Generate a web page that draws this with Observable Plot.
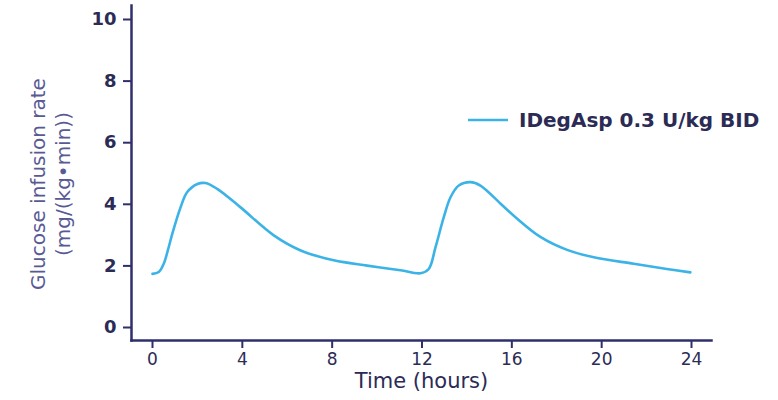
<!DOCTYPE html>
<html>
<head>
<meta charset="utf-8">
<script src="https://cdn.jsdelivr.net/npm/d3@7"></script>
<script src="https://cdn.jsdelivr.net/npm/@observablehq/plot@0.6"></script>
<style>
  html, body { margin: 0; padding: 0; background: #fff; }
  #wrap { position: relative; width: 778px; height: 400px; }
  #legend { position: absolute; left: 468px; top: 108px; display: flex; align-items: center;
    font-family: "DejaVu Sans", Verdana, sans-serif; font-size: 20px; font-weight: bold; color: #2b2b55; }
  #legend svg { margin-right: 11px; }
</style>
</head>
<body>
<div id="wrap"><div id="legend"></div></div>
<script>
const seriesName = "IDegAsp 0.3 U/kg BID";
const hours = [0, 0.28, 0.5, 0.7, 0.88, 1.25, 1.54, 2.0, 2.36, 2.88, 3.92, 5.4, 6.6, 8.07, 9.56, 11.04, 11.93, 12.3, 12.6, 12.97, 13.27, 13.64, 14.16, 14.6, 15.5, 16.24, 17.27, 18.46, 19.65, 21.43, 22.9, 23.95];
const gir   = [1.74, 1.80, 2.07, 2.55, 3.04, 3.9, 4.39, 4.66, 4.69, 4.5, 3.9, 2.99, 2.5, 2.18, 2.01, 1.86, 1.76, 1.9, 2.6, 3.58, 4.23, 4.61, 4.72, 4.61, 4.02, 3.53, 2.94, 2.52, 2.28, 2.07, 1.9, 1.79];
const xTicks = [0, 4, 8, 12, 16, 20, 24];
const yTicks = [0, 2, 4, 6, 8, 10];
const xLabel = "Time (hours)";
const yLabel = "Glucose infusion rate\n(mg/(kg•min))";

const data = hours.map((h, i) => ({h, v: gir[i]}));
const axisColor = "#2e2f6b";
const textColor = "#2b2b55";
const lineColor = "#3cb3e6";

const chart = Plot.plot({
  width: 778,
  height: 400,
  marginLeft: 131,
  marginRight: 67,
  marginTop: 5,
  marginBottom: 60,
  insetLeft: 21,
  insetRight: 20,
  insetTop: 14,
  insetBottom: 13,
  style: {fontFamily: "DejaVu Sans, Verdana, sans-serif", fontSize: "16px", color: textColor, background: "#fff"},
  x: {domain: [0, 24]},
  y: {domain: [0, 10]},
  marks: [
    Plot.frame({anchor: "left", stroke: axisColor, strokeWidth: 2.5}),
    Plot.frame({anchor: "bottom", stroke: axisColor, strokeWidth: 2.5}),
    Plot.axisY({ticks: yTicks, tickSize: 8, tickPadding: 7, stroke: axisColor, strokeWidth: 2, fill: textColor, fontWeight: "bold", fontSize: 18, label: null}),
    Plot.axisX({ticks: xTicks, tickSize: 8, tickPadding: 4, stroke: axisColor, strokeWidth: 2, fill: textColor, fontSize: 17, label: null}),
    Plot.text([xLabel], {frameAnchor: "bottom", dy: 47, fill: textColor, fontSize: 21}),
    Plot.text([yLabel], {frameAnchor: "left", textAnchor: "middle", dx: -82, dy: 11, rotate: -90, fill: "#585a94", fontSize: 20, lineHeight: 1.25}),
    Plot.line(data, {x: "h", y: "v", stroke: lineColor, strokeWidth: 2.6, curve: "catmull-rom"})
  ]
});
document.getElementById("wrap").prepend(chart);

document.getElementById("legend").innerHTML =
  `<svg width="40" height="6"><line x1="0" y1="3" x2="40" y2="3" stroke="${lineColor}" stroke-width="2.6"/></svg><span>${seriesName}</span>`;
</script>
</body>
</html>
